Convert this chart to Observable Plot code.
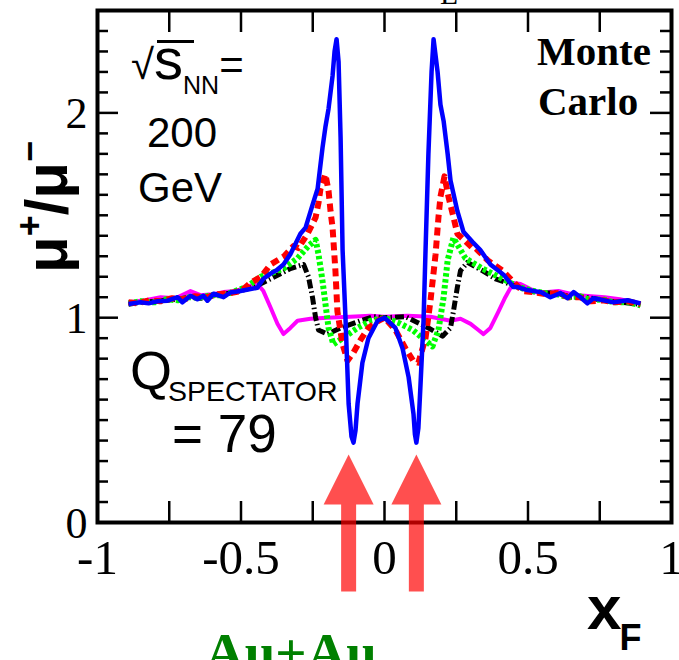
<!DOCTYPE html>
<html><head><meta charset="utf-8">
<script src="https://cdn.jsdelivr.net/npm/d3@7"></script>
<script src="https://cdn.jsdelivr.net/npm/@observablehq/plot@0.6"></script>
<style>body{margin:0;background:#fff}svg{display:block}</style>
</head><body><div id="chart"></div>
<script>
// ---- data ----
const blue = [[-0.892,1.067],[-0.850,1.075],[-0.822,1.070],[-0.791,1.080],[-0.756,1.083],[-0.721,1.100],[-0.704,1.075],[-0.676,1.107],[-0.652,1.090],[-0.631,1.107],[-0.617,1.083],[-0.596,1.117],[-0.561,1.100],[-0.537,1.123],[-0.502,1.130],[-0.467,1.140],[-0.443,1.146],[-0.422,1.190],[-0.397,1.215],[-0.373,1.235],[-0.352,1.26],[-0.328,1.31],[-0.293,1.41],[-0.275,1.44],[-0.251,1.55],[-0.233,1.63],[-0.216,1.83],[-0.206,1.93],[-0.195,2.02],[-0.181,2.18],[-0.174,2.30],[-0.167,2.36],[-0.160,2.25],[-0.153,1.88],[-0.146,1.33],[-0.136,1.00],[-0.125,0.58],[-0.115,0.42],[-0.108,0.39],[-0.101,0.45],[-0.094,0.58],[-0.077,0.78],[-0.056,0.90],[-0.024,0.985],[0.000,1.00],[0.038,0.95],[0.063,0.85],[0.084,0.71],[0.101,0.53],[0.106,0.43],[0.111,0.39],[0.118,0.46],[0.125,0.66],[0.136,0.985],[0.143,1.33],[0.153,1.80],[0.164,2.20],[0.171,2.36],[0.185,2.20],[0.195,2.04],[0.206,1.96],[0.220,1.80],[0.230,1.67],[0.254,1.52],[0.275,1.42],[0.307,1.37],[0.334,1.33],[0.369,1.26],[0.415,1.21],[0.449,1.15],[0.463,1.15],[0.498,1.135],[0.544,1.125],[0.578,1.10],[0.613,1.12],[0.638,1.095],[0.659,1.125],[0.683,1.10],[0.707,1.07],[0.728,1.095],[0.763,1.085],[0.798,1.075],[0.847,1.085],[0.892,1.07]];
const red = [[-0.892,1.075],[-0.86,1.07],[-0.82,1.085],[-0.78,1.08],[-0.74,1.095],[-0.70,1.09],[-0.66,1.105],[-0.62,1.10],[-0.58,1.115],[-0.54,1.12],[-0.50,1.13],[-0.467,1.17],[-0.43,1.20],[-0.397,1.26],[-0.35,1.30],[-0.317,1.35],[-0.30,1.34],[-0.268,1.41],[-0.240,1.49],[-0.230,1.56],[-0.223,1.63],[-0.206,1.70],[-0.195,1.62],[-0.188,1.52],[-0.181,1.44],[-0.171,1.23],[-0.164,1.03],[-0.146,0.87],[-0.129,0.79],[-0.108,0.83],[-0.084,0.89],[-0.056,0.95],[-0.021,0.985],[0,1.0],[0.038,0.94],[0.073,0.85],[0.100,0.79],[0.118,0.78],[0.143,0.90],[0.160,1.08],[0.178,1.31],[0.188,1.49],[0.195,1.59],[0.209,1.69],[0.223,1.59],[0.237,1.51],[0.254,1.41],[0.307,1.34],[0.317,1.34],[0.36,1.28],[0.411,1.23],[0.481,1.13],[0.52,1.125],[0.56,1.115],[0.60,1.12],[0.64,1.10],[0.68,1.10],[0.72,1.08],[0.76,1.085],[0.80,1.075],[0.85,1.08],[0.892,1.065]];
const green = [[-0.892,1.07],[-0.85,1.08],[-0.80,1.075],[-0.76,1.09],[-0.72,1.085],[-0.68,1.10],[-0.64,1.10],[-0.60,1.11],[-0.56,1.11],[-0.52,1.13],[-0.48,1.15],[-0.432,1.20],[-0.39,1.22],[-0.352,1.24],[-0.303,1.29],[-0.265,1.35],[-0.240,1.38],[-0.230,1.31],[-0.216,1.18],[-0.206,1.07],[-0.195,0.95],[-0.178,0.87],[-0.146,0.90],[-0.094,0.95],[-0.049,0.985],[0,1.0],[0.049,0.975],[0.098,0.94],[0.167,0.86],[0.188,0.94],[0.206,1.10],[0.220,1.28],[0.240,1.39],[0.282,1.29],[0.341,1.24],[0.397,1.20],[0.467,1.15],[0.52,1.13],[0.56,1.12],[0.60,1.115],[0.64,1.10],[0.68,1.105],[0.72,1.085],[0.76,1.09],[0.80,1.075],[0.85,1.075],[0.892,1.06]];
const black = [[-0.892,1.065],[-0.85,1.075],[-0.80,1.08],[-0.76,1.085],[-0.72,1.09],[-0.68,1.10],[-0.64,1.095],[-0.60,1.11],[-0.56,1.115],[-0.52,1.125],[-0.48,1.14],[-0.44,1.16],[-0.397,1.19],[-0.328,1.24],[-0.282,1.26],[-0.265,1.20],[-0.251,1.10],[-0.240,1.0],[-0.230,0.94],[-0.199,0.92],[-0.153,0.95],[-0.084,0.985],[-0.038,1.005],[0,1.0],[0.073,1.005],[0.153,0.95],[0.202,0.91],[0.230,0.95],[0.240,1.03],[0.254,1.15],[0.265,1.23],[0.289,1.27],[0.341,1.23],[0.387,1.19],[0.446,1.16],[0.50,1.13],[0.55,1.12],[0.60,1.12],[0.65,1.10],[0.70,1.10],[0.74,1.09],[0.78,1.08],[0.83,1.075],[0.892,1.065]];
const magenta = [[-0.892,1.075],[-0.833,1.085],[-0.780,1.10],[-0.728,1.095],[-0.676,1.13],[-0.641,1.11],[-0.599,1.115],[-0.561,1.125],[-0.519,1.13],[-0.467,1.156],[-0.443,1.165],[-0.422,1.13],[-0.397,1.05],[-0.373,0.97],[-0.352,0.92],[-0.328,0.95],[-0.303,0.985],[-0.258,0.995],[-0.20,1.0],[-0.12,1.005],[-0.05,1.01],[0.0,1.005],[0.08,1.01],[0.16,1.005],[0.23,0.985],[0.265,0.995],[0.300,0.97],[0.327,0.94],[0.345,0.92],[0.369,0.95],[0.397,1.03],[0.421,1.10],[0.449,1.17],[0.474,1.165],[0.537,1.12],[0.57,1.125],[0.606,1.13],[0.64,1.12],[0.676,1.11],[0.72,1.105],[0.767,1.10],[0.82,1.09],[0.892,1.07]];

const xTickLabels = [-1, -0.5, 0, 0.5, 1];
const xTicks = [-0.75, -0.5, -0.25, 0, 0.25, 0.5, 0.75];
const yTickLabels = [0, 1, 2];
const yMinorTicks = d3.range(1, 25).map(i => i / 10).filter(v => Math.abs(v - Math.round(v)) > 1e-9);
const arrowX = [-0.125, 0.111];
const arrowTipY = 0.332, arrowNeckY = 0.088, arrowTailY = -0.337;

// ---- layout ----
const W = 679, H = 660;
const mL = 97, mR = 8, mT = 10, mB = 138;
const fw = W - mL - mR, fh = H - mT - mB;
const pxX = 2 / fw; // data units per px in x
const headHalf = 25 * pxX, shaftHalf = 7.5 * pxX;

const toRows = a => a.map(([x, y]) => ({x, y}));
const arrowPts = arrowX.flatMap((ax, i) => [
  [ax - shaftHalf, arrowTailY], [ax - shaftHalf, arrowNeckY], [ax - headHalf, arrowNeckY],
  [ax, arrowTipY], [ax + headHalf, arrowNeckY], [ax + shaftHalf, arrowNeckY], [ax + shaftHalf, arrowTailY]
].map(([x, y]) => ({x, y, id: i})));

const fmt = v => String(v);
const serif = "Liberation Serif, Times New Roman, serif";
const sans = "Liberation Sans, Arial, Helvetica, sans-serif";
const lineStyle = {x: "x", y: "y", strokeLinecap: "butt", strokeLinejoin: "round"};

const chart = Plot.plot({
  width: W, height: H,
  marginLeft: mL, marginRight: mR, marginTop: mT, marginBottom: mB,
  x: {domain: [-1, 1], axis: null},
  y: {domain: [0, 2.5], axis: null},
  marks: [
    Plot.ruleX(xTicks, {x: d => d, insetTop: fh - 21, stroke: "black", strokeWidth: 2.5}),
    Plot.ruleX(xTicks, {x: d => d, insetBottom: fh - 22, stroke: "black", strokeWidth: 2.5}),
    Plot.ruleY(yMinorTicks, {y: d => d, insetRight: fw - 11, stroke: "black", strokeWidth: 2.5}),
    Plot.ruleY(yTickLabels, {y: d => d, insetRight: fw - 21, stroke: "black", strokeWidth: 2.5}),
    Plot.ruleY(yMinorTicks, {y: d => d, insetLeft: fw - 11, stroke: "black", strokeWidth: 2.5}),
    Plot.ruleY(yTickLabels, {y: d => d, insetLeft: fw - 21, stroke: "black", strokeWidth: 2.5}),
    Plot.line(toRows(magenta), {...lineStyle, stroke: "#ff00ff", strokeWidth: 4}),
    Plot.line(toRows(black), {...lineStyle, stroke: "black", strokeWidth: 5, strokeDasharray: "9,3,1.5,3"}),
    Plot.line(toRows(green), {...lineStyle, stroke: "#00ff00", strokeWidth: 6, strokeDasharray: "3.5,2.5"}),
    Plot.line(toRows(red), {...lineStyle, stroke: "#ff0000", strokeWidth: 6, strokeDasharray: "8,5"}),
    Plot.line(toRows(blue), {...lineStyle, stroke: "#0000ff", strokeWidth: 4.5}),
    Plot.frame({stroke: "black", strokeWidth: 4}),
    Plot.line(arrowPts, {x: "x", y: "y", z: "id", fill: "#ff0000", fillOpacity: 0.69, stroke: "none"}),
    Plot.text(xTickLabels, {x: d => d, y: 0, text: fmt, dy: 36, fontSize: 49, fontFamily: serif, fill: "black"}),
    Plot.text(yTickLabels, {x: -1, y: d => d, text: fmt, dx: -10, dy: 1, textAnchor: "end", fontSize: 44, fontFamily: serif, fill: "black"})
  ]
});
document.getElementById("chart").appendChild(chart);

// ---- annotations (text) ----
const svg = d3.select(chart);
const g = svg.append("g").attr("fill", "black").attr("text-anchor", "start");

// y-axis title
const yt = g.append("text").attr("transform", "translate(67,207) rotate(-90)")
  .attr("text-anchor", "middle").attr("font-family", sans).attr("font-weight", "bold").attr("font-size", 60);
yt.append("tspan").text("μ");
yt.append("tspan").attr("dy", -25).attr("font-size", 36).text("+");
yt.append("tspan").attr("dy", 25).text("/μ");
yt.append("tspan").attr("dy", -25).attr("font-size", 36).text("−");

// √s_NN = 200 GeV
const s1 = g.append("text").attr("x", 131).attr("y", 79).attr("font-family", sans).attr("font-size", 42);
s1.append("tspan").text("√");
s1.append("tspan").attr("font-size", 58).text("s");
s1.append("tspan").attr("font-size", 25).attr("dy", 15).text("NN");
s1.append("tspan").attr("dy", -15).text("=");
g.append("line").attr("x1", 157).attr("x2", 194).attr("y1", 41.5).attr("y2", 41.5).attr("stroke", "black").attr("stroke-width", 3);
g.append("text").attr("x", 182).attr("y", 147).attr("text-anchor", "middle").attr("font-family", sans).attr("font-size", 42).text("200");
g.append("text").attr("x", 180).attr("y", 202).attr("text-anchor", "middle").attr("font-family", sans).attr("font-size", 42).text("GeV");

// Q_SPECTATOR = 79
const q = g.append("text").attr("x", 130).attr("y", 389).attr("font-family", sans).attr("font-size", 54);
q.append("tspan").text("Q");
q.append("tspan").attr("font-size", 28.5).attr("dy", 12).attr("dx", -4).text("SPECTATOR");
g.append("text").attr("x", 172).attr("y", 452).attr("font-family", sans).attr("font-size", 53).text("= 79");

// Monte Carlo
g.append("text").attr("x", 537).attr("y", 65).attr("font-family", serif).attr("font-weight", "bold").attr("font-size", 41).text("Monte");
g.append("text").attr("x", 538).attr("y", 115).attr("font-family", serif).attr("font-weight", "bold").attr("font-size", 41).text("Carlo");

// x_F
const xf = g.append("text").attr("x", 587).attr("y", 629).attr("font-family", sans).attr("font-weight", "bold").attr("font-size", 62);
xf.append("tspan").text("x");
xf.append("tspan").attr("font-size", 36).attr("dy", 21).attr("dx", -2).text("F");

// Au+Au (cut off at the bottom)
g.append("text").attr("x", 205).attr("y", 671).attr("font-family", serif).attr("font-weight", "bold").attr("font-size", 55).attr("fill", "#008000").text("Au+Au");

// fragment of a label above the frame
g.append("text").attr("x", 440).attr("y", 4).attr("font-family", serif).attr("font-size", 30).text("L");
</script>
</body></html>
